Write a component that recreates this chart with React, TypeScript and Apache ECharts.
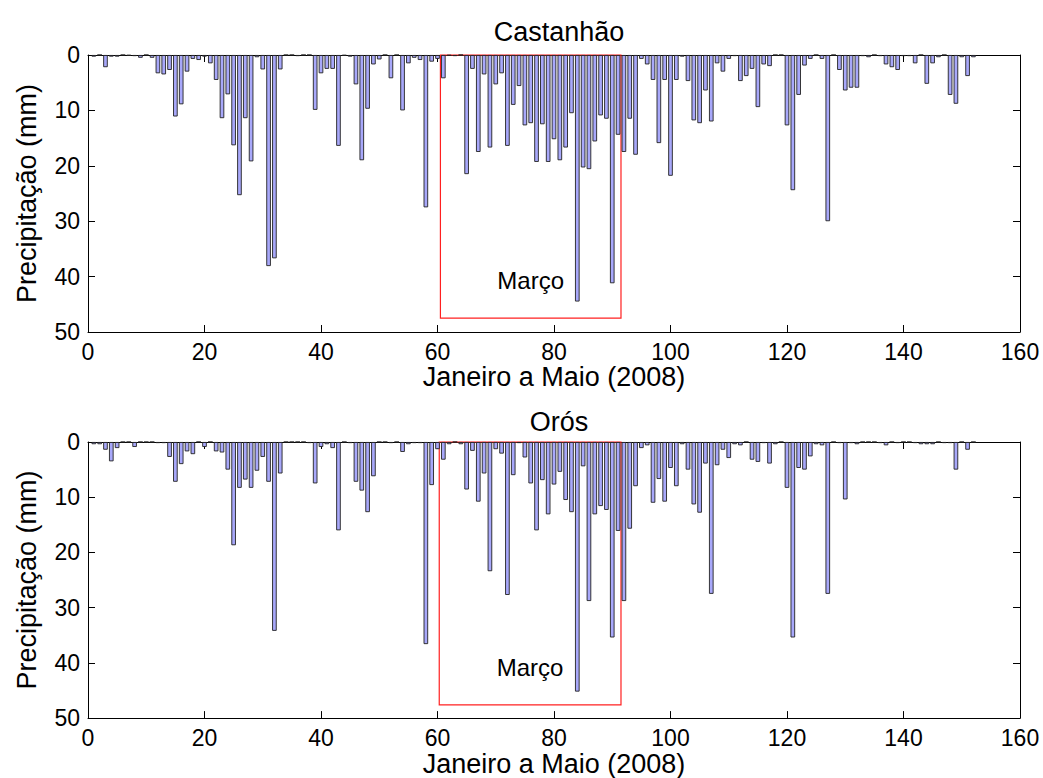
import React, { useEffect, useRef } from "react";
import * as echarts from "echarts";

// Daily rainfall (mm), 1 Jan – 31 May 2008 (152 days), one value per day
const castanhao = [
  0.3, 0, 2.2, 0.3, 0.3, 0, 0.1, 0.2, 0.5, 0,
  0.5, 3.3, 3.5, 2.7, 11.1, 8.9, 3.0, 0.7, 0.9, 0.3,
  1.5, 4.5, 11.4, 7.1, 16.3, 25.3, 11.4, 19.2, 0.4, 2.6,
  38.1, 36.7, 2.6, 0, 0, 0.2, 0, 0, 9.9, 3.3,
  2.5, 2.5, 16.4, 0.1, 0.3, 5.3, 19.0, 9.7, 1.7, 0.8,
  0, 4.2, 0, 10.0, 1.5, 0.5, 0.9, 27.5, 1.2, 0.7,
  4.2, 0.1, 0.2, 0, 21.5, 2.5, 17.5, 3.5, 16.7, 5.3,
  3.3, 16.4, 9.0, 5.6, 12.7, 12.3, 19.3, 12.5, 19.3, 15.2,
  19.0, 16.7, 10.5, 44.5, 20.3, 20.6, 15.6, 10.9, 11.5, 41.2,
  14.4, 17.5, 11.5, 18.0, 0.7, 1.7, 4.5, 15.9, 4.5, 21.8,
  4.5, 0.3, 4.7, 11.8, 12.3, 6.4, 12.0, 1.5, 3.0, 0.7,
  0.2, 4.7, 3.8, 2.5, 9.4, 1.7, 2.0, 0, 0, 12.7,
  24.4, 7.2, 1.9, 0.7, 0, 0.7, 30.0, 0, 2.7, 6.4,
  5.9, 5.9, 0.2, 0.4, 0, 0.2, 1.7, 2.2, 2.7, 0.2,
  0.2, 1.5, 0, 5.2, 1.5, 0.4, 0, 7.2, 8.8, 0.4,
  3.8, 0.4,
];

const oros = [
  0.4, 0.4, 1.4, 3.5, 1.1, 0, 0, 0.9, 0, 0,
  0, 0.2, 0.2, 2.7, 7.2, 4.0, 1.7, 2.2, 0, 0.9,
  0, 1.7, 1.9, 5.0, 18.7, 8.3, 6.8, 8.3, 5.2, 2.7,
  7.2, 34.2, 5.7, 0, 0, 0, 0, 0.2, 7.5, 0.9,
  0.4, 1.1, 16.0, 0, 0.2, 7.2, 8.8, 12.7, 6.2, 0,
  0, 0.2, 0, 1.8, 0.4, 0.2, 0.2, 36.6, 7.8, 1.3,
  3.2, 0.4, 0, 0.4, 8.6, 1.6, 10.8, 5.7, 23.4, 1.3,
  2.1, 27.7, 6.0, 0.2, 2.8, 7.5, 16.0, 6.9, 13.1, 7.7,
  5.4, 10.5, 12.7, 45.2, 4.4, 28.8, 13.1, 11.6, 12.3, 35.4,
  16.1, 28.8, 15.7, 8.0, 1.1, 0.6, 11.0, 6.7, 10.8, 4.7,
  8.0, 0.4, 5.0, 11.3, 12.8, 3.9, 27.5, 4.2, 1.4, 2.9,
  0.4, 0.6, 0, 3.2, 3.6, 0.2, 3.9, 0.4, 0, 8.3,
  35.4, 4.7, 5.0, 2.6, 0.4, 0.6, 27.5, 0, 0.2, 10.4,
  0.2, 0.4, 0, 0, 0, 0.2, 0.6, 0, 0.2, 0,
  0, 0.2, 0.4, 0.4, 0.4, 0, 0.2, 0.2, 5.0, 0,
  1.4, 0,
];

const panelTitles = ["Castanhão", "Orós"];
// March window (day range and depth of the highlight box) per panel
const marchBox = [
  { from: 60.5, to: 91.5, depth: 47.5 },
  { from: 60.3, to: 91.5, depth: 47.6 },
];
const marchLabel = "Março";
const xName = "Janeiro a Maio (2008)";
const yName = "Precipitação (mm)";
const xTicks = { min: 0, max: 160, interval: 20 };
const yTicks = { min: 0, max: 50, interval: 10 };

const FONT = "'Liberation Sans', Arial, Helvetica, sans-serif";

export default function App() {
  const ref = useRef<HTMLDivElement>(null);

  useEffect(() => {
    if (!ref.current) return;
    const chart = echarts.init(ref.current, undefined, { renderer: "svg" });

    const grids = [
      { left: 88, top: 55, width: 932, height: 277 },
      { left: 88, top: 442, width: 932, height: 277 },
    ];

    const axisLine = { show: true, onZero: false, lineStyle: { color: "#000", width: 1 } };
    const axisTick = { show: true, inside: true, length: 7, lineStyle: { color: "#000", width: 1 } };
    const labelStyle = { color: "#000", fontSize: 23, fontFamily: FONT };
    const nameStyle = { color: "#000", fontSize: 27, fontFamily: FONT };

    const xAxes: any[] = [];
    const yAxes: any[] = [];
    grids.forEach((_, g) => {
      xAxes.push({
        type: "value",
        gridIndex: g,
        position: "bottom",
        ...xTicks,
        axisLine,
        axisTick,
        axisLabel: { ...labelStyle, margin: 8 },
        splitLine: { show: false },
        name: xName,
        nameLocation: "middle",
        nameGap: 30,
        nameTextStyle: nameStyle,
      });
      xAxes.push({
        type: "value",
        gridIndex: g,
        position: "top",
        ...xTicks,
        axisLine,
        axisTick,
        axisLabel: { show: false },
        splitLine: { show: false },
      });
      yAxes.push({
        type: "value",
        gridIndex: g,
        position: "left",
        inverse: true,
        ...yTicks,
        axisLine,
        axisTick,
        axisLabel: { ...labelStyle, margin: 8 },
        splitLine: { show: false },
        name: yName,
        nameLocation: "middle",
        nameGap: 48,
        nameRotate: 90,
        nameTextStyle: nameStyle,
      });
      yAxes.push({
        type: "value",
        gridIndex: g,
        position: "right",
        inverse: true,
        ...yTicks,
        axisLine,
        axisTick,
        axisLabel: { show: false },
        splitLine: { show: false },
      });
    });

    const makeSeries = (values: number[], g: number) => ({
      type: "bar",
      xAxisIndex: g * 2,
      yAxisIndex: g * 2,
      barWidth: 4.6,
      data: values.map((v, i) => [i + 1, v]),
      itemStyle: { color: "#a8a8fa", borderColor: "#222", borderWidth: 0.9 },
      markArea: {
        silent: true,
        itemStyle: { color: "rgba(0,0,0,0)", borderColor: "#ff2020", borderWidth: 1.2 },
        label: {
          show: true,
          position: "insideBottom",
          distance: 26,
          formatter: marchLabel,
          color: "#000",
          fontSize: 24,
          fontFamily: FONT,
        },
        data: [
          [
            { coord: [marchBox[g].from, 0] },
            { coord: [marchBox[g].to, marchBox[g].depth] },
          ],
        ],
      },
    });

    chart.setOption({
      animation: false,
      backgroundColor: "#fff",
      title: panelTitles.map((t, g) => ({
        text: t,
        left: 554,
        top: g === 0 ? 13 : 403,
        textAlign: "center",
        textStyle: { color: "#000", fontSize: 27, fontWeight: "normal", fontFamily: FONT },
      })),
      grid: grids,
      xAxis: xAxes,
      yAxis: yAxes,
      series: [makeSeries(castanhao, 0), makeSeries(oros, 1)],
    });

    return () => chart.dispose();
  }, []);

  return (
    <div
      ref={ref}
      style={{ position: "fixed", left: 0, top: 0, width: 1043, height: 778, background: "#fff" }}
    />
  );
}
